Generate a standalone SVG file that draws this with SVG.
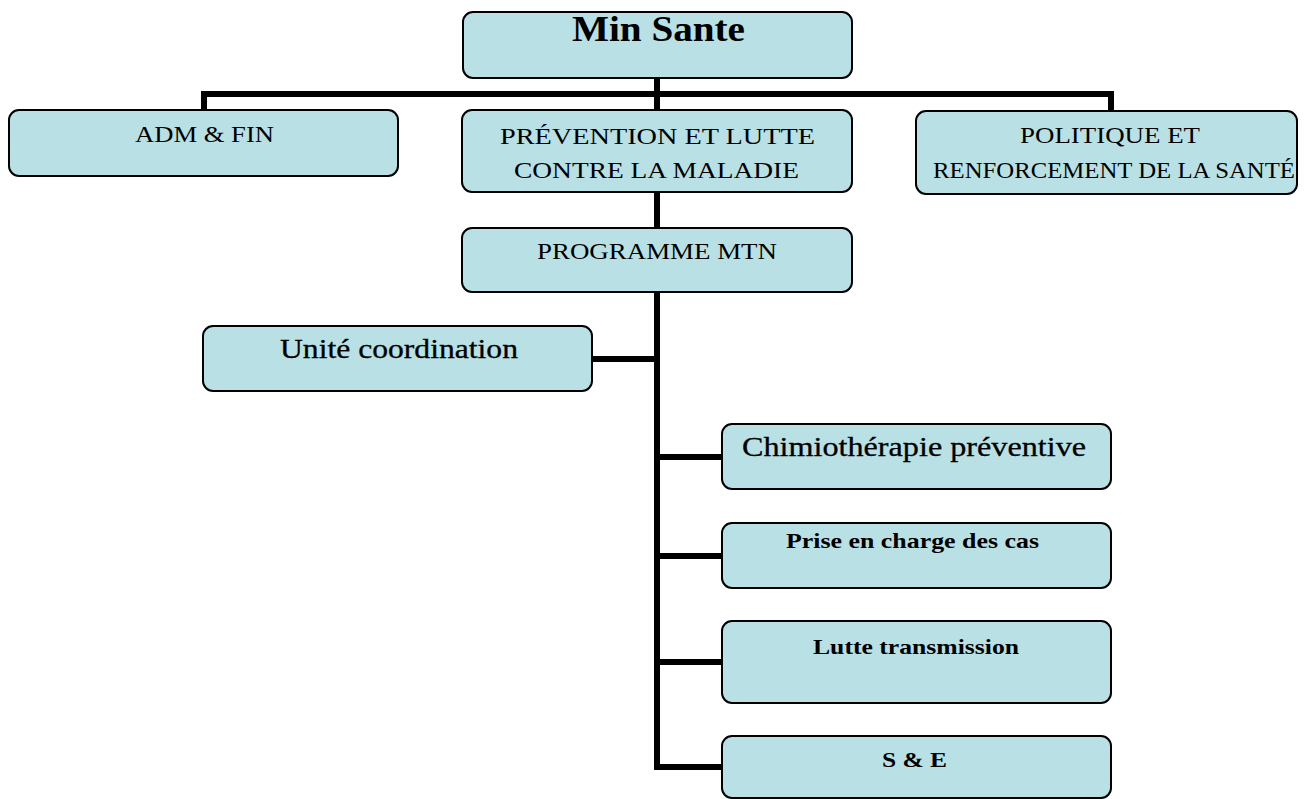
<svg xmlns="http://www.w3.org/2000/svg" width="1310" height="799" viewBox="0 0 1310 799">
<style>
.box{fill:#b9e0e4;stroke:#000;stroke-width:2}
text{font-family:'Liberation Serif','DejaVu Serif','Noto Serif',serif;fill:#000}
.n{font-size:23px}
.b{font-weight:bold}
.m{font-size:27px;stroke:#000;stroke-width:0.3}
.conn{stroke:#000;stroke-width:6;fill:none}
</style>
<rect width="1310" height="799" fill="#fff"/>
<g id="connectors">
<path class="conn" d="M657 77V110M204 110V94H1111V111"/>
<path class="conn" d="M657 192V228"/>
<path class="conn" d="M657 292V767H722M592 359H657M657 457H722M657 556H722M657 662H722"/>
</g>
<g id="min-sante">
<rect class="box" x="463" y="12" width="389" height="66" rx="10"/>
<text class="b" x="572" y="41" font-size="35" textLength="173" lengthAdjust="spacingAndGlyphs">Min Sante</text>
</g>
<g id="adm-fin">
<rect class="box" x="9" y="110" width="389" height="66" rx="10"/>
<text class="n" x="135" y="142" textLength="139" lengthAdjust="spacingAndGlyphs">ADM &amp; FIN</text>
</g>
<g id="prevention">
<rect class="box" x="462" y="110" width="390" height="82" rx="10"/>
<text class="n" x="500" y="144" textLength="315" lengthAdjust="spacingAndGlyphs">PRÉVENTION ET LUTTE</text>
<text class="n" x="514" y="178" textLength="285" lengthAdjust="spacingAndGlyphs">CONTRE LA MALADIE</text>
</g>
<g id="politique">
<rect class="box" x="916" y="111" width="381" height="83" rx="10"/>
<text class="n" x="1020" y="143" textLength="180" lengthAdjust="spacingAndGlyphs">POLITIQUE ET</text>
<text class="n" x="933" y="178" textLength="362" lengthAdjust="spacingAndGlyphs">RENFORCEMENT DE LA SANTÉ</text>
</g>
<g id="programme">
<rect class="box" x="462" y="228" width="390" height="64" rx="10"/>
<text class="n" x="537" y="259" textLength="240" lengthAdjust="spacingAndGlyphs">PROGRAMME MTN</text>
</g>
<g id="unite">
<rect class="box" x="203" y="326" width="389" height="65" rx="10"/>
<text class="m" x="280" y="358" textLength="238" lengthAdjust="spacingAndGlyphs">Unité coordination</text>
</g>
<g id="chimio">
<rect class="box" x="722" y="424" width="389" height="65" rx="10"/>
<text class="m" x="742" y="456" textLength="344" lengthAdjust="spacingAndGlyphs">Chimiothérapie préventive</text>
</g>
<g id="prise">
<rect class="box" x="722" y="523" width="389" height="65" rx="10"/>
<text class="b" x="786" y="548" font-size="21" textLength="253" lengthAdjust="spacingAndGlyphs">Prise en charge des cas</text>
</g>
<g id="lutte">
<rect class="box" x="722" y="621" width="389" height="82" rx="10"/>
<text class="b" x="813" y="654" font-size="21" textLength="206" lengthAdjust="spacingAndGlyphs">Lutte transmission</text>
</g>
<g id="se">
<rect class="box" x="722" y="736" width="389" height="62" rx="10"/>
<text class="b" x="882" y="767" font-size="21" textLength="65" lengthAdjust="spacingAndGlyphs">S &amp; E</text>
</g>
</svg>
